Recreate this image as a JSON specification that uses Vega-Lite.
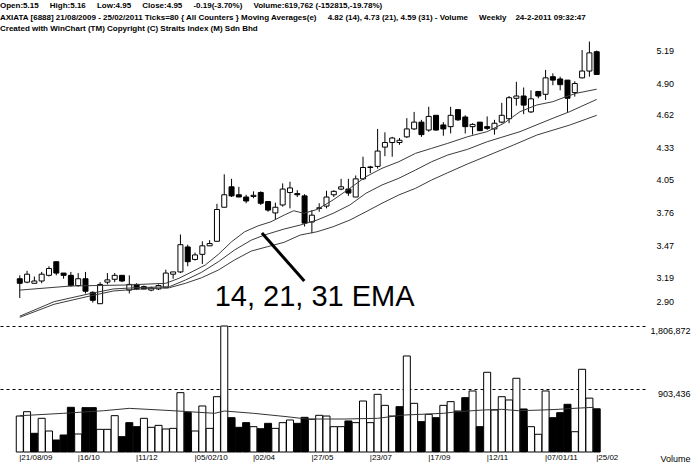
{
  "$schema": "https://vega.github.io/schema/vega-lite/v6.json",
  "width": 645,
  "height": 416,
  "autosize": {"type": "none"},
  "padding": {"left": 0, "top": 36, "right": 46, "bottom": 10},
  "background": "white",
  "title": {
    "text": [
      "Open:5.15\u00a0\u00a0\u00a0\u00a0 High:5.16\u00a0\u00a0\u00a0\u00a0 Low:4.95\u00a0\u00a0\u00a0\u00a0 Close:4.95\u00a0\u00a0\u00a0\u00a0 -0.19(-3.70%)\u00a0\u00a0\u00a0\u00a0 Volume:619,762 (-152815,-19.78%)",
      "AXIATA [6888]  21/08/2009 - 25/02/2011  Ticks=80  { All Counters } Moving Averages(e)\u00a0\u00a0\u00a0\u00a0 4.82 (14), 4.73 (21), 4.59 (31) - Volume\u00a0\u00a0\u00a0\u00a0 Weekly\u00a0\u00a0\u00a0 24-2-2011 09:32:47",
      "Created with WinChart (TM)  Copyright (C) Straits Index (M) Sdn Bhd"
    ],
    "anchor": "start",
    "frame": "group",
    "font": "Liberation Sans",
    "fontSize": 8,
    "fontWeight": "bold",
    "color": "black",
    "lineHeight": 11.5,
    "baseline": "bottom",
    "offset": -5
  },
  "datasets": {
    "weeks": [
      {"w":0,"o":3.15,"h":3.18,"l":2.98,"c":3.11,"v":516000,"vd":"u"},
      {"w":1,"o":3.12,"h":3.22,"l":3.11,"c":3.19,"v":578000,"vd":"u"},
      {"w":2,"o":3.11,"h":3.17,"l":3.11,"c":3.13,"v":268000,"vd":"d"},
      {"w":3,"o":3.13,"h":3.21,"l":3.11,"c":3.19,"v":483000,"vd":"u"},
      {"w":4,"o":3.18,"h":3.26,"l":3.17,"c":3.24,"v":301000,"vd":"u"},
      {"w":5,"o":3.30,"h":3.30,"l":3.18,"c":3.20,"v":172000,"vd":"d"},
      {"w":6,"o":3.20,"h":3.20,"l":3.15,"c":3.18,"v":244000,"vd":"d"},
      {"w":7,"o":3.18,"h":3.21,"l":3.08,"c":3.09,"v":641000,"vd":"d"},
      {"w":8,"o":3.09,"h":3.20,"l":3.08,"c":3.15,"v":258000,"vd":"u"},
      {"w":9,"o":3.15,"h":3.21,"l":3.02,"c":3.04,"v":636000,"vd":"d"},
      {"w":10,"o":3.03,"h":3.04,"l":2.94,"c":2.96,"v":636000,"vd":"d"},
      {"w":11,"o":2.93,"h":3.12,"l":2.93,"c":3.10,"v":325000,"vd":"u"},
      {"w":12,"o":3.12,"h":3.20,"l":3.10,"c":3.14,"v":325000,"vd":"u"},
      {"w":13,"o":3.145,"h":3.20,"l":3.12,"c":3.18,"v":521000,"vd":"u"},
      {"w":14,"o":3.18,"h":3.18,"l":3.12,"c":3.13,"v":220000,"vd":"d"},
      {"w":15,"o":3.05,"h":3.18,"l":3.02,"c":3.10,"v":421000,"vd":"d"},
      {"w":16,"o":3.10,"h":3.11,"l":3.05,"c":3.06,"v":363000,"vd":"d"},
      {"w":17,"o":3.08,"h":3.09,"l":3.06,"c":3.06,"v":483000,"vd":"u"},
      {"w":18,"o":3.05,"h":3.08,"l":3.04,"c":3.07,"v":354000,"vd":"u"},
      {"w":19,"o":3.06,"h":3.10,"l":3.05,"c":3.09,"v":382000,"vd":"u"},
      {"w":20,"o":3.07,"h":3.23,"l":3.07,"c":3.20,"v":330000,"vd":"u"},
      {"w":21,"o":3.19,"h":3.21,"l":3.15,"c":3.21,"v":339000,"vd":"u"},
      {"w":22,"o":3.21,"h":3.54,"l":3.20,"c":3.45,"v":851000,"vd":"u"},
      {"w":23,"o":3.43,"h":3.45,"l":3.26,"c":3.30,"v":569000,"vd":"d"},
      {"w":24,"o":3.32,"h":3.38,"l":3.31,"c":3.36,"v":301000,"vd":"u"},
      {"w":25,"o":3.365,"h":3.48,"l":3.28,"c":3.44,"v":660000,"vd":"u"},
      {"w":26,"o":3.44,"h":3.49,"l":3.44,"c":3.46,"v":339000,"vd":"u"},
      {"w":27,"o":3.48,"h":3.81,"l":3.48,"c":3.76,"v":793000,"vd":"u"},
      {"w":28,"o":3.78,"h":4.07,"l":3.78,"c":3.89,"v":1806872,"vd":"u"},
      {"w":29,"o":3.96,"h":4.03,"l":3.87,"c":3.88,"v":492000,"vd":"d"},
      {"w":30,"o":3.89,"h":3.96,"l":3.87,"c":3.87,"v":354000,"vd":"d"},
      {"w":31,"o":3.87,"h":3.89,"l":3.815,"c":3.835,"v":421000,"vd":"d"},
      {"w":32,"o":3.875,"h":3.92,"l":3.86,"c":3.885,"v":363000,"vd":"u"},
      {"w":33,"o":3.91,"h":3.92,"l":3.80,"c":3.815,"v":334000,"vd":"d"},
      {"w":34,"o":3.83,"h":3.835,"l":3.74,"c":3.755,"v":411000,"vd":"d"},
      {"w":35,"o":3.73,"h":3.82,"l":3.67,"c":3.78,"v":339000,"vd":"u"},
      {"w":36,"o":3.80,"h":3.99,"l":3.785,"c":3.94,"v":421000,"vd":"u"},
      {"w":37,"o":3.91,"h":4.005,"l":3.77,"c":3.95,"v":459000,"vd":"u"},
      {"w":38,"o":3.90,"h":3.93,"l":3.87,"c":3.89,"v":411000,"vd":"d"},
      {"w":39,"o":3.88,"h":3.895,"l":3.61,"c":3.64,"v":497000,"vd":"d"},
      {"w":40,"o":3.65,"h":3.755,"l":3.55,"c":3.71,"v":469000,"vd":"u"},
      {"w":41,"o":3.77,"h":3.815,"l":3.74,"c":3.775,"v":526000,"vd":"u"},
      {"w":42,"o":3.79,"h":3.925,"l":3.77,"c":3.87,"v":516000,"vd":"u"},
      {"w":43,"o":3.89,"h":3.93,"l":3.87,"c":3.92,"v":363000,"vd":"u"},
      {"w":44,"o":3.94,"h":4.03,"l":3.93,"c":3.96,"v":363000,"vd":"u"},
      {"w":45,"o":3.94,"h":4.03,"l":3.88,"c":3.905,"v":445000,"vd":"d"},
      {"w":46,"o":3.87,"h":4.06,"l":3.87,"c":4.03,"v":421000,"vd":"u"},
      {"w":47,"o":4.03,"h":4.225,"l":4.02,"c":4.13,"v":731000,"vd":"u"},
      {"w":48,"o":4.13,"h":4.145,"l":4.08,"c":4.135,"v":421000,"vd":"u"},
      {"w":49,"o":4.14,"h":4.47,"l":4.12,"c":4.275,"v":827000,"vd":"u"},
      {"w":50,"o":4.31,"h":4.44,"l":4.23,"c":4.35,"v":669000,"vd":"u"},
      {"w":51,"o":4.35,"h":4.40,"l":4.225,"c":4.39,"v":516000,"vd":"u"},
      {"w":52,"o":4.35,"h":4.39,"l":4.33,"c":4.37,"v":650000,"vd":"d"},
      {"w":53,"o":4.40,"h":4.565,"l":4.39,"c":4.47,"v":1377000,"vd":"u"},
      {"w":54,"o":4.47,"h":4.62,"l":4.46,"c":4.53,"v":698000,"vd":"u"},
      {"w":55,"o":4.53,"h":4.55,"l":4.40,"c":4.42,"v":435000,"vd":"d"},
      {"w":56,"o":4.46,"h":4.665,"l":4.445,"c":4.58,"v":540000,"vd":"u"},
      {"w":57,"o":4.59,"h":4.59,"l":4.455,"c":4.46,"v":492000,"vd":"d"},
      {"w":58,"o":4.505,"h":4.53,"l":4.41,"c":4.47,"v":669000,"vd":"u"},
      {"w":59,"o":4.49,"h":4.665,"l":4.43,"c":4.59,"v":722000,"vd":"u"},
      {"w":60,"o":4.64,"h":4.645,"l":4.54,"c":4.55,"v":588000,"vd":"d"},
      {"w":61,"o":4.575,"h":4.59,"l":4.43,"c":4.49,"v":779000,"vd":"d"},
      {"w":62,"o":4.49,"h":4.52,"l":4.42,"c":4.51,"v":875000,"vd":"u"},
      {"w":63,"o":4.53,"h":4.53,"l":4.45,"c":4.455,"v":363000,"vd":"d"},
      {"w":64,"o":4.49,"h":4.58,"l":4.46,"c":4.475,"v":1143000,"vd":"u"},
      {"w":65,"o":4.47,"h":4.55,"l":4.42,"c":4.52,"v":602000,"vd":"u"},
      {"w":66,"o":4.53,"h":4.70,"l":4.52,"c":4.59,"v":793000,"vd":"u"},
      {"w":67,"o":4.56,"h":4.76,"l":4.52,"c":4.745,"v":746000,"vd":"u"},
      {"w":68,"o":4.74,"h":4.885,"l":4.675,"c":4.76,"v":1057000,"vd":"u"},
      {"w":69,"o":4.76,"h":4.835,"l":4.60,"c":4.68,"v":617000,"vd":"d"},
      {"w":70,"o":4.62,"h":4.81,"l":4.61,"c":4.735,"v":363000,"vd":"u"},
      {"w":71,"o":4.80,"h":4.80,"l":4.74,"c":4.76,"v":254000,"vd":"u"},
      {"w":72,"o":4.775,"h":4.99,"l":4.725,"c":4.92,"v":875000,"vd":"u"},
      {"w":73,"o":4.93,"h":4.96,"l":4.855,"c":4.90,"v":492000,"vd":"d"},
      {"w":74,"o":4.91,"h":4.93,"l":4.81,"c":4.86,"v":564000,"vd":"d"},
      {"w":75,"o":4.90,"h":4.90,"l":4.62,"c":4.74,"v":684000,"vd":"d"},
      {"w":76,"o":4.79,"h":4.89,"l":4.755,"c":4.87,"v":291000,"vd":"u"},
      {"w":77,"o":4.92,"h":5.165,"l":4.915,"c":4.98,"v":1186000,"vd":"u"},
      {"w":78,"o":4.98,"h":5.24,"l":4.93,"c":5.14,"v":772577,"vd":"u"},
      {"w":79,"o":5.15,"h":5.16,"l":4.95,"c":4.95,"v":619762,"vd":"d"}
    ],
    "ema": [
      {"s":"14","w":0,"v":3.05},{"s":"14","w":7,"v":3.086},{"s":"14","w":14.6,"v":3.095},{"s":"14","w":20,"v":3.11},
      {"s":"14","w":21.8,"v":3.154},{"s":"14","w":23.6,"v":3.212},{"s":"14","w":25.4,"v":3.271},{"s":"14","w":27.2,"v":3.365},
      {"s":"14","w":29,"v":3.476},{"s":"14","w":30.8,"v":3.564},{"s":"14","w":32.6,"v":3.615},{"s":"14","w":34.4,"v":3.652},
      {"s":"14","w":36.2,"v":3.711},{"s":"14","w":37.5,"v":3.749},{"s":"14","w":38.9,"v":3.727},{"s":"14","w":40.7,"v":3.76},
      {"s":"14","w":42.9,"v":3.844},{"s":"14","w":45.2,"v":3.947},{"s":"14","w":47.4,"v":4.049},{"s":"14","w":49.6,"v":4.123},
      {"s":"14","w":51.9,"v":4.181},{"s":"14","w":54.2,"v":4.255},{"s":"14","w":56.4,"v":4.299},{"s":"14","w":58.6,"v":4.343},
      {"s":"14","w":61.3,"v":4.401},{"s":"14","w":64,"v":4.446},{"s":"14","w":66.3,"v":4.52},{"s":"14","w":68.5,"v":4.622},
      {"s":"14","w":70.8,"v":4.681},{"s":"14","w":73,"v":4.71},{"s":"14","w":74.8,"v":4.754},{"s":"14","w":76.2,"v":4.784},
      {"s":"14","w":79,"v":4.82},
      {"s":"21","w":0,"v":2.82},{"s":"21","w":4.7,"v":2.948},{"s":"21","w":9.2,"v":3.013},{"s":"21","w":12.8,"v":3.06},
      {"s":"21","w":15.9,"v":3.071},{"s":"21","w":20.5,"v":3.08},{"s":"21","w":22.7,"v":3.139},{"s":"21","w":24.9,"v":3.207},
      {"s":"21","w":27.2,"v":3.30},{"s":"21","w":29.4,"v":3.403},{"s":"21","w":31.7,"v":3.49},{"s":"21","w":33.5,"v":3.535},
      {"s":"21","w":36.2,"v":3.588},{"s":"21","w":38.4,"v":3.623},{"s":"21","w":40.7,"v":3.667},{"s":"21","w":42.9,"v":3.726},
      {"s":"21","w":45.2,"v":3.80},{"s":"21","w":47.4,"v":3.903},{"s":"21","w":49.6,"v":3.976},{"s":"21","w":51.9,"v":4.035},
      {"s":"21","w":54.2,"v":4.108},{"s":"21","w":56.4,"v":4.181},{"s":"21","w":58.6,"v":4.24},{"s":"21","w":61.3,"v":4.29},
      {"s":"21","w":64,"v":4.357},{"s":"21","w":68.5,"v":4.446},{"s":"21","w":73,"v":4.564},{"s":"21","w":75.3,"v":4.622},
      {"s":"21","w":79,"v":4.73},
      {"s":"31","w":0,"v":2.81},{"s":"31","w":4.7,"v":2.925},{"s":"31","w":9.2,"v":2.992},{"s":"31","w":12.8,"v":3.042},
      {"s":"31","w":15.9,"v":3.057},{"s":"31","w":20.5,"v":3.071},{"s":"31","w":22.7,"v":3.11},{"s":"31","w":24.9,"v":3.159},
      {"s":"31","w":27.2,"v":3.227},{"s":"31","w":29.4,"v":3.315},{"s":"31","w":31.7,"v":3.394},{"s":"31","w":33.9,"v":3.432},
      {"s":"31","w":36.2,"v":3.471},{"s":"31","w":38.4,"v":3.535},{"s":"31","w":40.7,"v":3.564},{"s":"31","w":42.9,"v":3.608},
      {"s":"31","w":45.2,"v":3.667},{"s":"31","w":47.4,"v":3.74},{"s":"31","w":49.6,"v":3.815},{"s":"31","w":51.9,"v":3.888},
      {"s":"31","w":54.2,"v":3.947},{"s":"31","w":56.4,"v":4.02},{"s":"31","w":58.6,"v":4.084},{"s":"31","w":61.3,"v":4.161},
      {"s":"31","w":67.6,"v":4.328},{"s":"31","w":70.8,"v":4.416},{"s":"31","w":75.3,"v":4.504},{"s":"31","w":79,"v":4.59}
    ],
    "vma": [
      {"w":0,"v":520000},{"w":6,"v":555000},{"w":11.5,"v":592000},{"w":15,"v":626000},{"w":21,"v":592000},
      {"w":26.7,"v":555000},{"w":28,"v":588000},{"w":32,"v":555000},{"w":36.6,"v":506000},{"w":39.3,"v":473000},
      {"w":44.4,"v":473000},{"w":49,"v":483000},{"w":52.6,"v":530000},{"w":54.8,"v":540000},{"w":58,"v":555000},
      {"w":60,"v":578000},{"w":63.4,"v":602000},{"w":66,"v":612000},{"w":68.3,"v":592000},{"w":71.5,"v":602000},
      {"w":73.7,"v":612000},{"w":75.9,"v":626000},{"w":78.6,"v":641000}
    ],
    "note": [{"w":26.69,"p":2.91,"label":"14, 21, 31 EMA"}],
    "pointer": [{"w":33.16,"p":3.553,"w2":38.96,"p2":3.13}]
  },
  "encoding": {
    "x": {"field": "w", "type": "quantitative", "scale": {"domain": [-2.0221, 84.929], "nice": false, "zero": false},
      "axis": {"values": [0, 8, 16, 24, 32, 40, 48, 56, 64, 72, 79],
        "labelExpr": "datum.value == 79 ? '|25/02' : datum.value == 0 ? '|21/08/09' : datum.value == 8 ? '|16/10' : datum.value == 16 ? '|11/12' : datum.value == 24 ? '|05/02/10' : datum.value == 32 ? '|02/04' : datum.value == 40 ? '|27/05' : datum.value == 48 ? '|23/07' : datum.value == 56 ? '|17/09' : datum.value == 64 ? '|12/11' : '|07/01/11'",
        "labelAlign": "left", "labelFlush": false, "labelOverlap": false, "ticks": false, "domain": false, "grid": false,
        "labelPadding": 1, "labelOffset": -1, "labelFont": "Liberation Sans", "labelFontSize": 8, "labelColor": "black", "title": null}}
  },
  "layer": [
    {
      "data": {"name": "weeks"},
      "mark": {"type": "bar", "size": 7, "stroke": "black", "strokeWidth": 1},
      "encoding": {
        "y": {"field": "v", "type": "quantitative", "scale": {"domain": [0, 5965545], "nice": false, "zero": true},
          "axis": {"orient": "right", "values": [903436, 1806872], "format": ",d", "grid": true, "gridDash": [3, 3],
            "gridColor": "black", "gridOpacity": 1, "gridWidth": 1, "domain": false, "ticks": false,
            "labelAlign": "right", "labelPadding": 45, "labelBaseline": "top",
            "labelFont": "Liberation Sans", "labelFontSize": 9, "labelColor": "black",
            "title": "Volume", "titleAngle": 0, "titleAlign": "right", "titleBaseline": "middle",
            "titleX": 45, "titleY": 422, "titleFont": "Liberation Sans", "titleFontSize": 9,
            "titleFontWeight": "normal", "titleColor": "black"}},
        "fill": {"condition": {"test": "datum.vd == 'd'", "value": "black"}, "value": "white"}
      }
    },
    {
      "data": {"name": "vma"},
      "mark": {"type": "line", "color": "#333333", "strokeWidth": 1},
      "encoding": {
        "y": {"field": "v", "type": "quantitative", "scale": {"domain": [0, 5965545], "nice": false, "zero": true}, "axis": null}
      }
    },
    {
      "data": {"name": "weeks"},
      "mark": {"type": "rule", "color": "black", "strokeWidth": 1},
      "encoding": {
        "y": {"field": "l", "type": "quantitative", "scale": {"domain": [1.6235, 5.2887], "nice": false, "zero": false},
          "axis": {"orient": "right", "values": [2.9, 3.19, 3.47, 3.76, 4.05, 4.33, 4.62, 4.9, 5.19], "format": ".2f",
            "grid": false, "domain": false, "ticks": false, "labelPadding": 11, "labelAlign": "left",
            "labelBaseline": {"condition": {"test": "datum.value < 3", "value": "bottom"}, "value": "top"},
            "labelOffset": -1, "labelFont": "Liberation Sans", "labelFontSize": 9, "labelColor": "black", "title": null}},
        "y2": {"field": "h"}
      }
    },
    {
      "data": {"name": "weeks"},
      "mark": {"type": "bar", "size": 5, "stroke": "black", "strokeWidth": 1},
      "encoding": {
        "y": {"field": "o", "type": "quantitative", "scale": {"domain": [1.6235, 5.2887], "nice": false, "zero": false}, "axis": null},
        "y2": {"field": "c"},
        "fill": {"condition": {"test": "datum.c < datum.o", "value": "black"}, "value": "white"}
      }
    },
    {
      "data": {"name": "ema"},
      "mark": {"type": "line", "color": "#3c3c3c", "strokeWidth": 1},
      "encoding": {
        "y": {"field": "v", "type": "quantitative", "scale": {"domain": [1.6235, 5.2887], "nice": false, "zero": false}, "axis": null},
        "detail": {"field": "s"}
      }
    },
    {
      "data": {"name": "pointer"},
      "mark": {"type": "rule", "color": "black", "strokeWidth": 3},
      "encoding": {
        "x2": {"field": "w2"},
        "y": {"field": "p", "type": "quantitative", "scale": {"domain": [1.6235, 5.2887], "nice": false, "zero": false}, "axis": null},
        "y2": {"field": "p2"}
      }
    },
    {
      "data": {"name": "note"},
      "mark": {"type": "text", "align": "left", "baseline": "alphabetic", "font": "Liberation Sans", "fontSize": 29, "color": "black"},
      "encoding": {
        "y": {"field": "p", "type": "quantitative", "scale": {"domain": [1.6235, 5.2887], "nice": false, "zero": false}, "axis": null},
        "text": {"field": "label"}
      }
    }
  ],
  "resolve": {"scale": {"y": "independent"}},
  "config": {"view": {"stroke": null}}
}
